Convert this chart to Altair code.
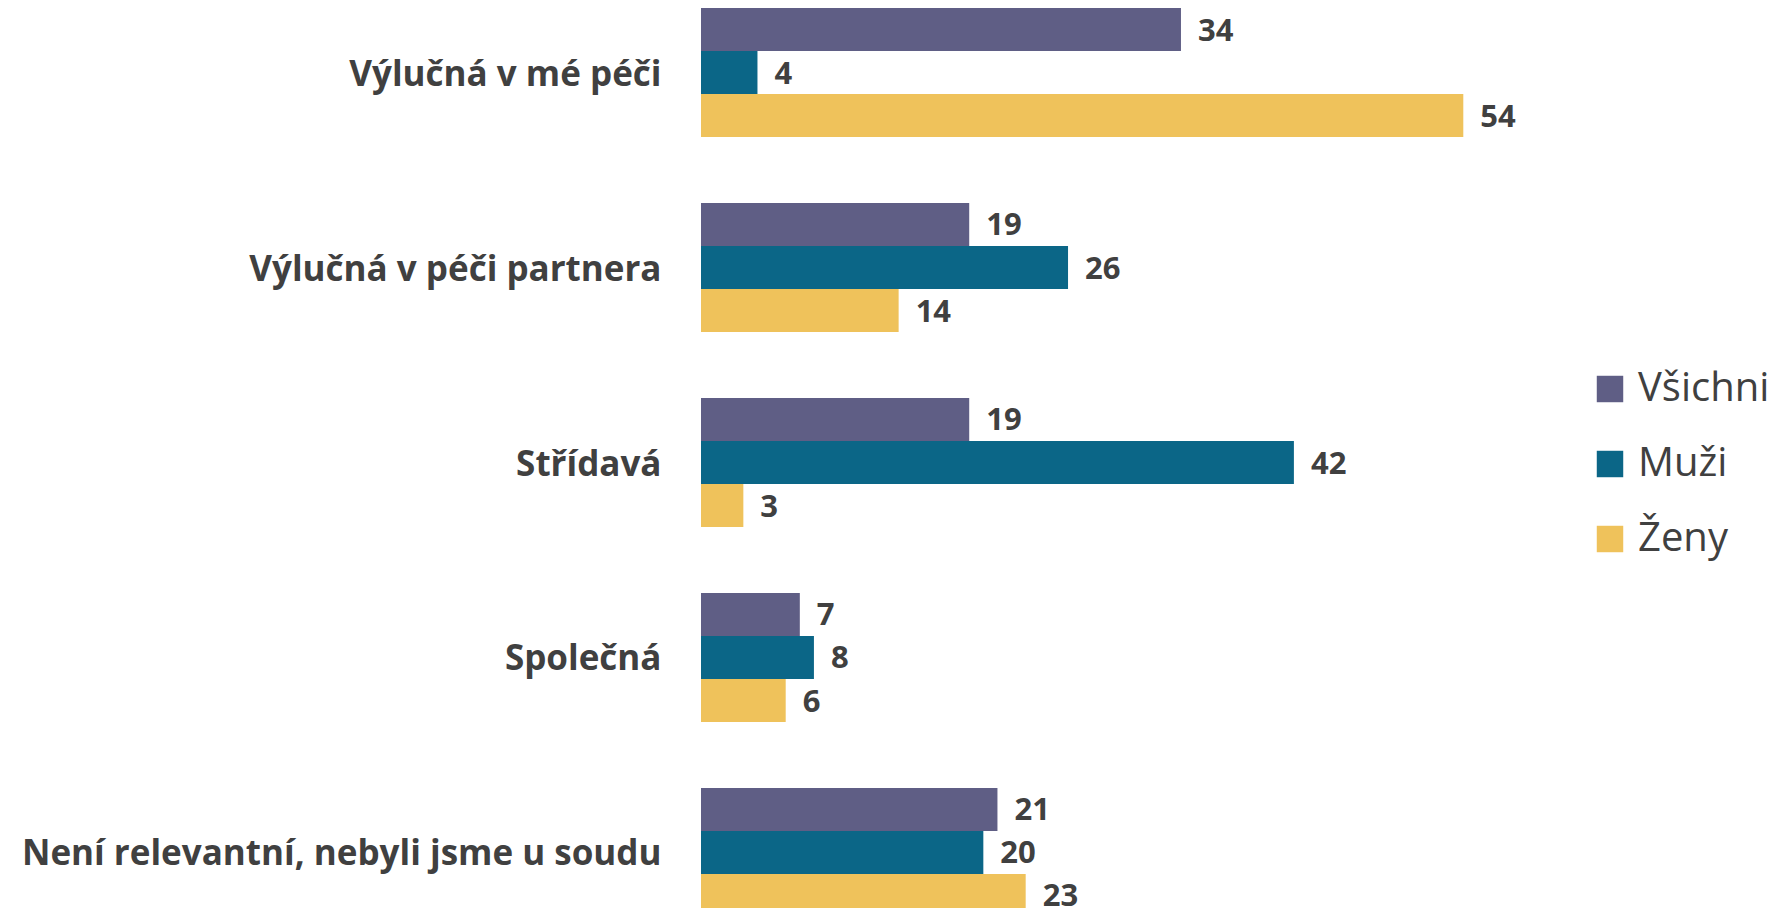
import altair as alt
import pandas as pd

categories = ["Výlučná v mé péči", "Výlučná v péči partnera", "Střídavá", "Společná",
              "Není relevantní, nebyli jsme u soudu"]
series = ["Všichni", "Muži", "Ženy"]
vsichni = [34, 19, 19, 7, 21]
muzi = [4, 26, 42, 8, 20]
zeny = [54, 14, 3, 6, 23]
colors = ["#5F5E85", "#0B6687", "#EFC25B"]

rows = []
for i, c in enumerate(categories):
    for s, vals in zip(series, [vsichni, muzi, zeny]):
        rows.append({"kat": c, "skupina": s, "hodnota": vals[i]})
df = pd.DataFrame(rows)

FONT = "Open Sans"
TXT = "#404040"

y = alt.Y("kat:N", sort=categories, title=None,
          scale=alt.Scale(paddingInner=0.338, paddingOuter=0, range=[0, 909]),
          axis=alt.Axis(labelFont=FONT, labelFontWeight="bold", labelFontSize=35,
                        labelColor=TXT, labelPadding=40, ticks=False, domain=False,
                        labelLimit=800, labelOffset=2))
yoff = alt.YOffset("skupina:N", sort=series, scale=alt.Scale(paddingInner=0, paddingOuter=0))
x = alt.X("hodnota:Q", title=None, scale=alt.Scale(domain=[0, 60]), axis=None)

base = alt.Chart(df).encode(y=y, yOffset=yoff, x=x)

bars = base.mark_bar(size=43).encode(
    color=alt.Color("skupina:N", sort=series,
                    scale=alt.Scale(domain=series, range=colors),
                    legend=alt.Legend(title=None, orient="none", legendX=889, legendY=361,
                                      symbolType="square", symbolSize=700,
                                      symbolStrokeWidth=0, labelFont=FONT,
                                      labelFontSize=40, labelColor=TXT,
                                      labelOffset=8, rowPadding=35))
)
labels = base.mark_text(align="left", baseline="middle", dx=17, dy=2, font=FONT,
                        fontWeight="bold", fontSize=31, color=TXT).encode(
    text="hodnota:Q")

chart = (bars + labels).properties(
    width=847, height=900,
    padding={"left": 693, "top": 0, "right": 224, "bottom": 0},
    autosize=alt.AutoSizeParams(type="none"),
    background="white",
).configure_view(stroke=None)

chart.save("out.html", embed_options={"renderer": "svg", "actions": False})
